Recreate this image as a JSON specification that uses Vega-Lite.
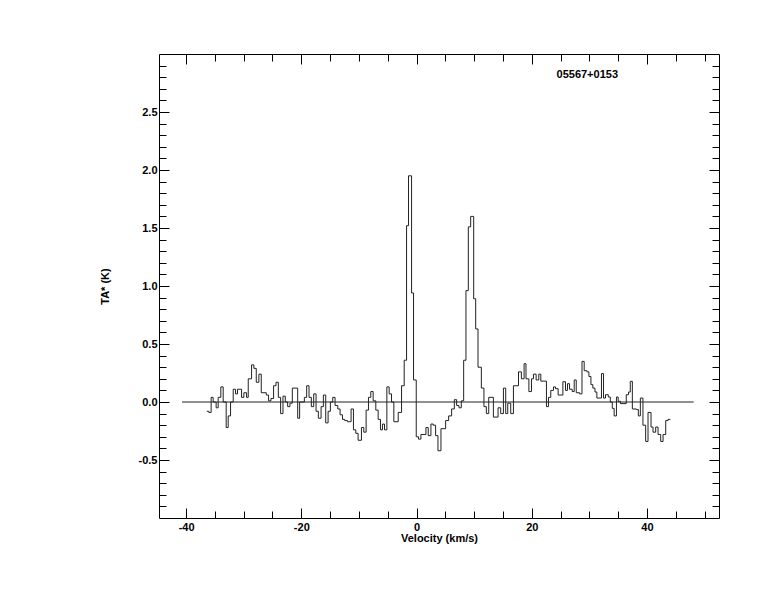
{
  "$schema": "https://vega.github.io/schema/vega-lite/v6.json",
  "width": 560,
  "height": 464,
  "autosize": {"type": "none"},
  "padding": {"left": 159, "top": 54, "right": 55, "bottom": 94},
  "background": "white",
  "config": {
    "view": {"stroke": "#000", "strokeWidth": 1},
    "axis": {
      "domain": false, "grid": false,
      "labelFont": "Liberation Sans", "labelFontWeight": "bold", "labelFontSize": 11, "labelColor": "#000",
      "tickColor": "#000", "tickWidth": 1,
      "titleFont": "Liberation Sans", "titleFontWeight": "bold", "titleFontSize": 11, "titleColor": "#000"
    }
  },
  "datasets": {
    "spec": [
      {"v": -36.4, "t": -0.08}, {"v": -36.05, "t": -0.09}, {"v": -35.65, "t": 0.04}, {"v": -35.3, "t": 0.0},
      {"v": -34.78, "t": -0.05}, {"v": -34.43, "t": 0.04}, {"v": -33.97, "t": 0.13}, {"v": -33.56, "t": 0.0},
      {"v": -33.04, "t": -0.22}, {"v": -32.69, "t": -0.12}, {"v": -32.28, "t": 0.0}, {"v": -31.82, "t": 0.11},
      {"v": -31.41, "t": 0.07}, {"v": -31.07, "t": 0.11}, {"v": -30.37, "t": 0.04}, {"v": -29.97, "t": 0.08},
      {"v": -29.5, "t": 0.04}, {"v": -29.21, "t": 0.2}, {"v": -28.63, "t": 0.32}, {"v": -28.23, "t": 0.29},
      {"v": -27.82, "t": 0.17}, {"v": -27.36, "t": 0.24}, {"v": -26.95, "t": 0.08}, {"v": -26.08, "t": 0.06},
      {"v": -25.68, "t": 0.01}, {"v": -25.27, "t": 0.03}, {"v": -24.81, "t": 0.14}, {"v": -24.4, "t": 0.17},
      {"v": -23.99, "t": 0.04}, {"v": -23.59, "t": -0.1}, {"v": -23.18, "t": 0.05}, {"v": -22.78, "t": 0.0},
      {"v": -22.37, "t": -0.04}, {"v": -21.97, "t": -0.01}, {"v": -21.56, "t": 0.12}, {"v": -20.63, "t": -0.14},
      {"v": -20.29, "t": 0.0}, {"v": -19.47, "t": 0.04}, {"v": -19.07, "t": 0.14}, {"v": -18.66, "t": 0.04},
      {"v": -18.26, "t": -0.04}, {"v": -17.85, "t": 0.07}, {"v": -17.44, "t": -0.08}, {"v": -17.04, "t": -0.14},
      {"v": -16.57, "t": -0.04}, {"v": -16.17, "t": 0.06}, {"v": -15.76, "t": -0.18}, {"v": -15.35, "t": -0.08},
      {"v": -14.95, "t": 0.0}, {"v": -14.54, "t": 0.04}, {"v": -14.14, "t": -0.03}, {"v": -13.67, "t": -0.06},
      {"v": -13.27, "t": -0.11}, {"v": -12.86, "t": -0.15}, {"v": -12.46, "t": -0.16}, {"v": -11.99, "t": -0.17},
      {"v": -11.36, "t": -0.06}, {"v": -10.95, "t": -0.24}, {"v": -10.54, "t": -0.27}, {"v": -10.14, "t": -0.33},
      {"v": -9.56, "t": -0.22}, {"v": -9.15, "t": -0.26}, {"v": -8.75, "t": -0.07}, {"v": -8.34, "t": 0.04},
      {"v": -7.94, "t": 0.09}, {"v": -7.53, "t": 0.01}, {"v": -7.07, "t": -0.07}, {"v": -6.66, "t": -0.15},
      {"v": -6.26, "t": -0.24}, {"v": -5.91, "t": -0.19}, {"v": -5.56, "t": -0.24}, {"v": -5.15, "t": 0.13},
      {"v": -4.75, "t": 0.07}, {"v": -4.34, "t": 0.0}, {"v": -3.94, "t": -0.17}, {"v": -3.18, "t": -0.09},
      {"v": -2.6, "t": 0.14}, {"v": -2.14, "t": 0.36}, {"v": -1.73, "t": 1.52}, {"v": -1.39, "t": 1.95},
      {"v": -0.86, "t": 0.94}, {"v": -0.52, "t": 0.19}, {"v": -0.05, "t": -0.3}, {"v": 0.35, "t": -0.32},
      {"v": 0.76, "t": -0.28}, {"v": 1.63, "t": -0.22}, {"v": 2.03, "t": -0.29}, {"v": 2.5, "t": -0.19},
      {"v": 2.9, "t": -0.2}, {"v": 3.31, "t": -0.29}, {"v": 3.72, "t": -0.42}, {"v": 4.24, "t": -0.23},
      {"v": 5.05, "t": -0.16}, {"v": 5.57, "t": -0.12}, {"v": 6.09, "t": -0.06}, {"v": 6.56, "t": 0.02},
      {"v": 6.96, "t": -0.03}, {"v": 7.37, "t": -0.05}, {"v": 7.77, "t": 0.01}, {"v": 8.18, "t": 0.36},
      {"v": 8.58, "t": 0.96}, {"v": 8.99, "t": 1.51}, {"v": 9.4, "t": 1.6}, {"v": 9.92, "t": 0.89},
      {"v": 10.27, "t": 0.63}, {"v": 10.67, "t": 0.3}, {"v": 11.25, "t": 0.12}, {"v": 11.7, "t": -0.04},
      {"v": 12.12, "t": -0.1}, {"v": 12.53, "t": 0.04}, {"v": 13.34, "t": -0.13}, {"v": 14.15, "t": -0.05},
      {"v": 14.61, "t": -0.1}, {"v": 15.08, "t": 0.12}, {"v": 15.48, "t": -0.1}, {"v": 15.83, "t": -0.01},
      {"v": 16.35, "t": -0.1}, {"v": 16.82, "t": 0.14}, {"v": 17.7, "t": 0.26}, {"v": 18.2, "t": 0.2},
      {"v": 18.67, "t": 0.33}, {"v": 19.0, "t": 0.2}, {"v": 19.5, "t": 0.09}, {"v": 19.95, "t": 0.2},
      {"v": 20.3, "t": 0.24}, {"v": 20.76, "t": 0.19}, {"v": 21.22, "t": 0.24}, {"v": 21.57, "t": 0.18},
      {"v": 22.55, "t": -0.04}, {"v": 22.9, "t": 0.04}, {"v": 23.3, "t": 0.1}, {"v": 23.77, "t": 0.13},
      {"v": 24.12, "t": 0.115}, {"v": 24.58, "t": 0.06}, {"v": 25.4, "t": 0.175}, {"v": 25.86, "t": 0.1},
      {"v": 26.2, "t": 0.158}, {"v": 26.56, "t": 0.11}, {"v": 27.02, "t": 0.09}, {"v": 27.37, "t": 0.19},
      {"v": 27.72, "t": 0.08}, {"v": 28.3, "t": 0.07}, {"v": 28.72, "t": 0.35}, {"v": 29.1, "t": 0.27},
      {"v": 29.57, "t": 0.26}, {"v": 29.92, "t": 0.22}, {"v": 30.27, "t": 0.15}, {"v": 30.6, "t": 0.12},
      {"v": 30.97, "t": 0.086}, {"v": 31.3, "t": 0.034}, {"v": 32.1, "t": 0.245}, {"v": 32.46, "t": 0.034},
      {"v": 32.8, "t": 0.063}, {"v": 33.28, "t": 0.043}, {"v": 33.63, "t": 0.0}, {"v": 33.98, "t": -0.055},
      {"v": 34.3, "t": -0.12}, {"v": 34.7, "t": 0.043}, {"v": 35.0, "t": 0.006}, {"v": 35.4, "t": -0.014},
      {"v": 36.4, "t": 0.063}, {"v": 36.8, "t": 0.086}, {"v": 37.1, "t": 0.178}, {"v": 37.46, "t": -0.06},
      {"v": 38.15, "t": -0.065}, {"v": 38.5, "t": -0.12}, {"v": 38.85, "t": 0.034}, {"v": 39.3, "t": -0.2},
      {"v": 39.77, "t": -0.34}, {"v": 40.18, "t": -0.09}, {"v": 40.7, "t": -0.216}, {"v": 41.05, "t": -0.26},
      {"v": 41.51, "t": -0.216}, {"v": 41.92, "t": -0.28}, {"v": 42.38, "t": -0.34}, {"v": 42.79, "t": -0.28},
      {"v": 43.25, "t": -0.16}, {"v": 43.66, "t": -0.15}, {"v": 44.06, "t": -0.15}
    ],
    "zero": [{"v": -40.7, "t": 0}, {"v": 48.1, "t": 0}],
    "lbl": [{"v": 24.3, "t": 2.82, "name": "05567+0153"}]
  },
  "layer": [
    {
      "data": {"name": "spec"},
      "mark": {"type": "line", "interpolate": "step-after", "color": "#222", "strokeWidth": 1},
      "encoding": {
        "x": {"field": "v", "type": "quantitative",
          "scale": {"domain": [-44.7, 52.5], "nice": false, "zero": false},
          "axis": {"orient": "bottom", "values": [-40, -20, 0, 20, 40], "tickSize": 10, "offset": -10,
            "labelPadding": 3, "labelExpr": "replace(datum.label, '\u2212', '-')",
            "title": "Velocity (km/s)", "titlePadding": 0}},
        "y": {"field": "t", "type": "quantitative",
          "scale": {"domain": [-1, 3], "nice": false, "zero": false},
          "axis": {"orient": "left", "values": [-0.5, 0, 0.5, 1, 1.5, 2, 2.5], "format": ".1f", "tickSize": 10, "offset": -10,
            "labelPadding": 2, "labelExpr": "replace(datum.label, '\u2212', '-')",
            "title": "TA* (K)", "titlePadding": 28}}
      }
    },
    {
      "data": {"name": "zero"},
      "mark": {"type": "line", "color": "#222", "strokeWidth": 1},
      "encoding": {
        "x": {"field": "v", "type": "quantitative",
          "scale": {"domain": [-44.7, 52.5], "nice": false, "zero": false},
          "axis": {"orient": "bottom", "values": [-40, -35, -30, -25, -20, -15, -10, -5, 0, 5, 10, 15, 20, 25, 30, 35, 40, 45, 50],
            "tickSize": 7, "offset": -7, "labels": false, "title": null}},
        "y": {"field": "t", "type": "quantitative",
          "scale": {"domain": [-1, 3], "nice": false, "zero": false},
          "axis": {"orient": "left", "values": [-0.9, -0.8, -0.7, -0.6, -0.5, -0.4, -0.3, -0.2, -0.1, 0, 0.1, 0.2, 0.3, 0.4, 0.5, 0.6, 0.7, 0.8, 0.9, 1, 1.1, 1.2, 1.3, 1.4, 1.5, 1.6, 1.7, 1.8, 1.9, 2, 2.1, 2.2, 2.3, 2.4, 2.5, 2.6, 2.7, 2.8, 2.9],
            "tickSize": 7, "offset": -7, "labels": false, "title": null}}
      }
    },
    {
      "data": {"name": "lbl"},
      "mark": {"type": "text", "align": "left", "baseline": "middle", "font": "Liberation Sans", "fontWeight": "bold", "fontSize": 11, "color": "#000"},
      "encoding": {
        "x": {"field": "v", "type": "quantitative",
          "scale": {"domain": [-44.7, 52.5], "nice": false, "zero": false},
          "axis": {"orient": "top", "values": [-40, -20, 0, 20, 40], "tickSize": 10, "offset": -10, "labels": false, "title": null}},
        "y": {"field": "t", "type": "quantitative",
          "scale": {"domain": [-1, 3], "nice": false, "zero": false},
          "axis": {"orient": "right", "values": [-0.5, 0, 0.5, 1, 1.5, 2, 2.5], "tickSize": 10, "offset": -10, "labels": false, "title": null}},
        "text": {"field": "name"}
      }
    },
    {
      "data": {"name": "lbl"},
      "mark": {"type": "point", "opacity": 0},
      "encoding": {
        "x": {"field": "v", "type": "quantitative",
          "scale": {"domain": [-44.7, 52.5], "nice": false, "zero": false},
          "axis": {"orient": "top", "values": [-40, -35, -30, -25, -20, -15, -10, -5, 0, 5, 10, 15, 20, 25, 30, 35, 40, 45, 50],
            "tickSize": 7, "offset": -7, "labels": false, "title": null}},
        "y": {"field": "t", "type": "quantitative",
          "scale": {"domain": [-1, 3], "nice": false, "zero": false},
          "axis": {"orient": "right", "values": [-0.9, -0.8, -0.7, -0.6, -0.5, -0.4, -0.3, -0.2, -0.1, 0, 0.1, 0.2, 0.3, 0.4, 0.5, 0.6, 0.7, 0.8, 0.9, 1, 1.1, 1.2, 1.3, 1.4, 1.5, 1.6, 1.7, 1.8, 1.9, 2, 2.1, 2.2, 2.3, 2.4, 2.5, 2.6, 2.7, 2.8, 2.9],
            "tickSize": 7, "offset": -7, "labels": false, "title": null}}
      }
    }
  ],
  "resolve": {"axis": {"x": "independent", "y": "independent"}}
}
